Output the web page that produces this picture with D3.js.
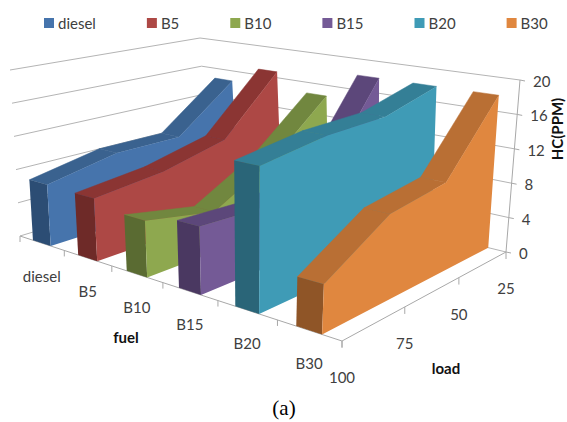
<!DOCTYPE html>
<html>
<head>
<meta charset="utf-8">
<script src="https://cdn.jsdelivr.net/npm/d3@7"></script>
<style>
  html, body { margin: 0; padding: 0; background: #fff; }
  svg { display: block; }
  text { font-family: Lato, sans-serif; fill: #404040; }
</style>
</head>
<body>
<svg id="chart" width="567" height="422"></svg>
<script>
const fuels = ["diesel", "B5", "B10", "B15", "B20", "B30"];
const loads = [100, 75, 50, 25];
const ticksHC = [0, 4, 8, 12, 16, 20];

const diesel = [7.2, 8.8, 8.8, 14.6];
const b5 = [7.1, 7.9, 9.7, 16.8];
const b10 = [6.2, 4.6, 8.6, 14.6];
const b15 = [7.2, 6.8, 8.3, 17.9];
const b20 = [15.0, 16.0, 16.1, 17.9];
const b30 = [4.9, 9.1, 10.0, 17.9];
const seriesValues = [diesel, b5, b10, b15, b20, b30];

const faceColors = ["#4674AC", "#AD4845", "#8EA84F", "#745A96", "#3F9BB6", "#E0873F"];
const topColors = ["#3A628F", "#8B3533", "#71873F", "#5C477A", "#347F96", "#B96F34"];
const capColors = ["#2C4D74", "#6E2A28", "#5A6B32", "#4A3861", "#2A6578", "#8F5527"];

// Unit square to quadrilateral perspective map.
function quadMap(p0, p1, p2, p3) {
  const dx1 = p1[0] - p2[0], dx2 = p3[0] - p2[0], sx = p0[0] - p1[0] + p2[0] - p3[0];
  const dy1 = p1[1] - p2[1], dy2 = p3[1] - p2[1], sy = p0[1] - p1[1] + p2[1] - p3[1];
  const det = dx1 * dy2 - dx2 * dy1;
  const g = (sx * dy2 - dx2 * sy) / det, h = (dx1 * sy - sx * dy1) / det;
  const a = p1[0] - p0[0] + g * p1[0], b = p3[0] - p0[0] + h * p3[0];
  const d = p1[1] - p0[1] + g * p1[1], e = p3[1] - p0[1] + h * p3[1];
  return (u, v) => {
    const k = g * u + h * v + 1;
    return [(a * u + b * v + p0[0]) / k, (d * u + e * v + p0[1]) / k];
  };
}

const floorMap = quadMap([20, 236], [342, 341], [506, 252], [208, 179]);
const ceilMap = quadMap([10, 70], [352, 134], [520, 80], [200, 38]);

const fuelBand = d3.scaleBand().domain(fuels).range([0, 1]).paddingInner(0.6).paddingOuter(0.3);
const fuelCell = d3.scaleBand().domain(fuels).range([0, 1]);
const loadPos = d3.scalePoint().domain(loads).range([0, 1]);
const hcPos = d3.scaleLinear().domain([0, 20]).range([0, 1]);

function project(u, v, hc) {
  const f = floorMap(u, v), c = ceilMap(u, v), t = hcPos(hc);
  return [f[0] + (c[0] - f[0]) * t, f[1] + (c[1] - f[1]) * t];
}

const svg = d3.select("#chart");
const line = d3.line();

// Back walls with their gridlines.
const grid = svg.append("g").attr("fill", "none").attr("stroke", "#b4b4b4").attr("stroke-width", 1);
ticksHC.forEach(hc => {
  grid.append("path").attr("d", line([project(0, 0, hc), project(0, 1, hc), project(1, 1, hc)]));
});

// Axes on the floor and the vertical axis at the right corner.
const axes = svg.append("g").attr("fill", "none").attr("stroke", "#a8a8a8").attr("stroke-width", 1);
axes.append("path").attr("d", line([project(0, 0, 0), project(1, 0, 0), project(1, 1, 0)]));
axes.append("path").attr("d", line([project(1, 1, 0), project(1, 1, 20)]));
d3.range(0, fuels.length + 1).forEach(i => {
  const p = project(i / fuels.length, 0, 0);
  axes.append("path").attr("d", line([p, [p[0], p[1] + 6]]));
});
loads.forEach(l => {
  const p = project(1, loadPos(l), 0);
  axes.append("path").attr("d", line([p, [p[0], p[1] + 7]]));
});
ticksHC.forEach(hc => {
  const p = project(1, 1, hc);
  axes.append("path").attr("d", line([p, [p[0] + 5, p[1] + 1]]));
});

// Each fuel is a solid ribbon: top strips, end cap, then the long side face.
fuels.forEach((fuel, s) => {
  const values = seriesValues[s];
  const u0 = fuelBand(fuel), u1 = u0 + fuelBand.bandwidth();
  const g = svg.append("g");
  for (let i = 0; i < loads.length - 1; i++) {
    const va = loadPos(loads[i]), vb = loadPos(loads[i + 1]);
    g.append("path").attr("fill", topColors[s]).attr("stroke", topColors[s]).attr("stroke-width", 0.5).attr("d", line([
      project(u0, va, values[i]), project(u1, va, values[i]),
      project(u1, vb, values[i + 1]), project(u0, vb, values[i + 1])
    ]) + "Z");
  }
  g.append("path").attr("fill", capColors[s]).attr("d", line([
    project(u0, 0, 0), project(u1, 0, 0), project(u1, 0, values[0]), project(u0, 0, values[0])
  ]) + "Z");
  const side = loads.map((l, i) => project(u1, loadPos(l), values[i]));
  g.append("path").attr("fill", faceColors[s]).attr("d", line([
    project(u1, 0, 0), ...side, project(u1, 1, 0)
  ]) + "Z");
});

// Tick labels, placed relative to the projected axes.
const labels = svg.append("g").attr("font-size", 15).attr("text-anchor", "middle").attr("dominant-baseline", "central");
fuels.forEach(fuel => {
  const p = project(fuelCell(fuel) + fuelCell.bandwidth() / 2, 0, 0);
  labels.append("text").attr("x", p[0]).attr("y", p[1] + 33).text(fuel);
});
loads.forEach(l => {
  const p = project(1, loadPos(l), 0);
  labels.append("text").attr("x", p[0]).attr("y", p[1] + 36).text(l);
});
ticksHC.forEach(hc => {
  const p = project(1, 1, hc);
  labels.append("text").attr("x", p[0] + 13).attr("y", p[1] + 1).attr("text-anchor", "start").text(hc);
});

// Axis titles and panel caption.
const titles = svg.append("g").attr("font-size", 15).attr("font-weight", 700).attr("text-anchor", "middle");
titles.append("text").attr("x", 126).attr("y", 343).style("fill", "#111").text("fuel");
titles.append("text").attr("x", 446).attr("y", 374).style("fill", "#111").text("load");
titles.append("text").attr("transform", "translate(563,129) rotate(-90)").style("fill", "#111").text("HC(PPM)");
svg.append("text").attr("x", 284).attr("y", 415).attr("text-anchor", "middle")
  .style("font-family", "'Liberation Serif', serif").style("fill", "#000").attr("font-size", 21).text("(a)");

// Legend row: swatch, name, then a constant gap to the next entry.
let legendX = 44;
fuels.forEach((fuel, s) => {
  svg.append("rect").attr("x", legendX).attr("y", 18).attr("width", 10).attr("height", 10).attr("fill", faceColors[s]);
  const t = svg.append("text").attr("x", legendX + 14).attr("y", 23).attr("font-size", 15)
    .attr("dominant-baseline", "central").text(fuel);
  legendX += 14 + t.node().getComputedTextLength() + 51;
});
</script>
</body>
</html>
